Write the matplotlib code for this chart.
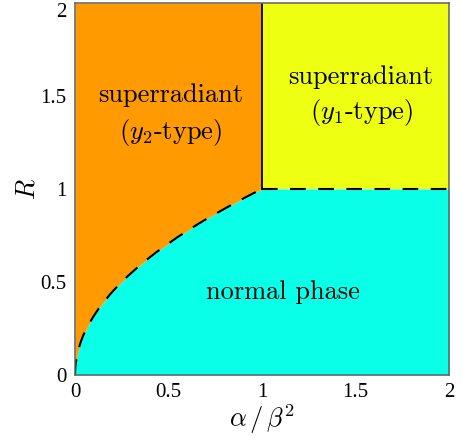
import numpy as np
import matplotlib
matplotlib.use("Agg")
import matplotlib.pyplot as plt

plt.rcParams['font.family'] = ['Liberation Serif', 'DejaVu Serif']
plt.rcParams['mathtext.fontset'] = 'cm'
plt.rcParams['axes.unicode_minus'] = False

# boundary between normal phase and y2-type superradiant phase
curve_x = [0.0, 0.002, 0.008, 0.018, 0.030, 0.044, 0.070, 0.098, 0.125, 0.151, 0.190,
           0.232, 0.270, 0.303, 0.350, 0.392, 0.430, 0.472, 0.550, 0.633, 0.710,
           0.793, 0.850, 0.900, 0.950, 0.989, 1.0]
curve_y = [0.0, 0.045, 0.090, 0.136, 0.175, 0.212, 0.266, 0.313, 0.354, 0.389, 0.436,
           0.482, 0.520, 0.550, 0.592, 0.626, 0.656, 0.687, 0.742, 0.796, 0.843,
           0.890, 0.922, 0.949, 0.975, 0.995, 1.0]
x_max = 2.0
y_max = 2.0
x_ticks = [0, 0.5, 1, 1.5, 2]
x_ticklabels = ['0', '0.5', '1', '1.5', '2']
y_ticks = [0, 0.5, 1, 1.5, 2]
y_ticklabels = ['0', '0.5', '1', '1.5', '2']

orange = '#FF9A00'
yellow = '#EEFF11'
cyan = '#0AFFE8'

fig = plt.figure(figsize=(4.63, 4.41), dpi=100)
ax = fig.add_axes([0.162, 0.150, 0.808, 0.843])

cx = np.array(curve_x)
cy = np.array(curve_y)
ax.fill_between(np.concatenate([cx, [x_max]]), 0, np.concatenate([cy, [1.0]]), color=cyan, lw=0)
ax.fill_between(cx, cy, y_max, color=orange, lw=0)
ax.fill_between([1.0, x_max], 1.0, y_max, color=yellow, lw=0)

dash = (0, (7.5, 6.0))
ax.plot(cx, cy, color='black', ls=dash, lw=1.5)
ax.plot([1.0, x_max], [1.0, 1.0], color='black', ls=dash, lw=1.5)
ax.plot([1.0, 1.0], [1.0, y_max], color='black', lw=1.3)

ax.set_xlim(0, x_max)
ax.set_ylim(0, y_max)
ax.set_xticks(x_ticks)
ax.set_xticklabels(x_ticklabels)
ax.set_yticks(y_ticks)
ax.set_yticklabels(y_ticklabels)
ax.tick_params(direction='in', length=0, labelsize=15, pad=6)
ax.get_yticklabels()[-1].set_verticalalignment('top')
for s in ax.spines.values():
    s.set_color('#606060')
    s.set_linewidth(1.1)
    s.set_zorder(5)

ax.set_xlabel(r'$\alpha\,/\,\beta^2$', fontsize=19, labelpad=0)
ax.set_ylabel(r'$R$', fontsize=19, labelpad=1)

fs = 19
cm = 'cmr10'
ax.text(0.513, 1.505, 'superradiant', ha='center', va='center', fontsize=fs, family=cm)
ax.text(0.513, 1.306, r'($y_2$-type)', ha='center', va='center', fontsize=fs, family=cm)
ax.text(1.525, 1.602, 'superradiant', ha='center', va='center', fontsize=fs, family=cm)
ax.text(1.530, 1.409, r'($y_1$-type)', ha='center', va='center', fontsize=fs, family=cm)
ax.text(1.110, 0.446, 'normal phase', ha='center', va='center', fontsize=fs, family=cm)

fig.savefig('out.png', dpi=100)
